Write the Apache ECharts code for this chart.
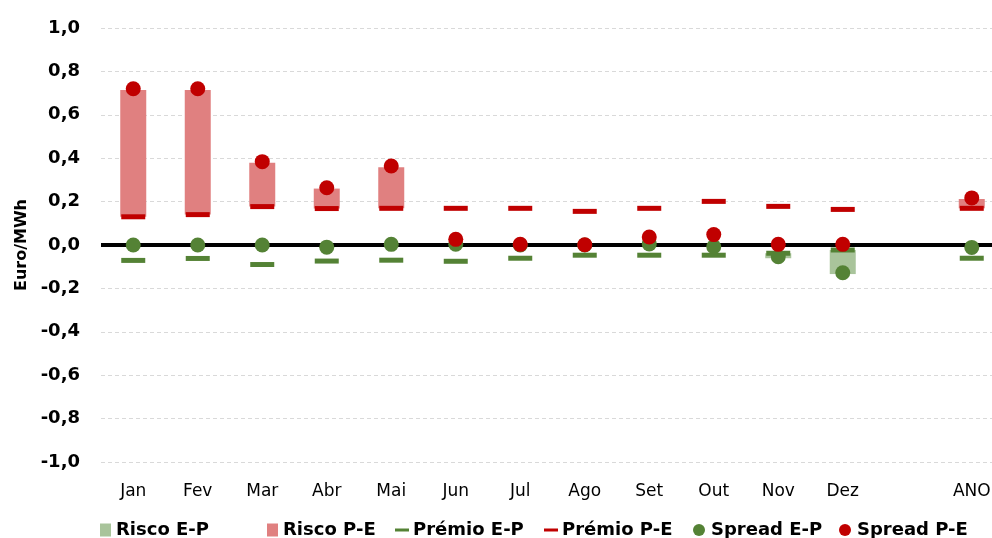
<!DOCTYPE html>
<html>
<head>
<meta charset="utf-8">
<script src="https://cdn.jsdelivr.net/npm/echarts@6/dist/echarts.min.js"></script>
<style>html,body{margin:0;padding:0;background:#fff;overflow:hidden}#c{width:992px;height:538px}</style>
</head>
<body>
<div id="c"></div>
<script>
var categories = ['Jan','Fev','Mar','Abr','Mai','Jun','Jul','Ago','Set','Out','Nov','Dez','','ANO'];
var premioPE = [0.130, 0.140, 0.177, 0.168, 0.169, 0.169, 0.169, 0.155, 0.169, 0.201, 0.178, 0.164, null, 0.169];
var riscoPE  = [0.584, 0.574, 0.202, 0.092, 0.189, null, null, null, null, null, null, null, null, 0.043];
var spreadPE = [0.720, 0.720, 0.384, 0.264, 0.364, 0.026, 0.003, 0.001, 0.037, 0.048, 0.003, 0.003, null, 0.217];
var premioEP = [-0.071, -0.062, -0.090, -0.074, -0.070, -0.075, -0.061, -0.047, -0.047, -0.047, -0.038, -0.023, null, -0.061];
var riscoEP  = [null, null, null, null, null, null, null, null, null, null, -0.023, -0.111, null, null];
var spreadEP = [0.000, 0.000, 0.000, -0.010, 0.003, 0.004, 0.000, 0.000, 0.005, -0.008, -0.054, -0.128, null, -0.011];

var FONT = 'DejaVu Sans';
var cRiscoEP = '#A9C49B', cRiscoPE = '#E08080', cGreen = '#548235', cRed = '#C00000';

function leg(name, left, top, w, h, icon, gap) {
  return {
    data: [{name: name, icon: icon}], left: left, top: top, padding: 0,
    itemWidth: w, itemHeight: h, itemGap: 0, selectedMode: false,
    itemStyle: {borderWidth: 0, opacity: 1},
    textStyle: {fontFamily: FONT, fontWeight: 'bold', fontSize: 18, color: '#000', padding: [0, 0, 0, gap - 5]}
  };
}

var chart = echarts.init(document.getElementById('c'), null, {renderer: 'canvas'});
chart.setOption({
  animation: false,
  backgroundColor: '#fff',
  grid: {left: 101, right: -12, top: 28, bottom: 76, containLabel: false, outerBoundsMode: 'none'},
  legend: [
    leg('Risco E-P', 100, 521, 11, 13, 'rect', 5),
    leg('Risco P-E', 267, 521, 11, 13, 'rect', 5),
    leg('Prémio E-P', 395, 521, 14, 3, 'rect', 4),
    leg('Prémio P-E', 544, 521, 14, 3, 'rect', 4),
    leg('Spread E-P', 693, 521, 12, 12, 'circle', 6),
    leg('Spread P-E', 839, 521, 12, 12, 'circle', 6)
  ],
  xAxis: {
    type: 'category', data: categories,
    axisLine: {show: false}, axisTick: {show: false},
    axisLabel: {fontFamily: FONT, fontSize: 17, color: '#000', margin: 21, interval: 0},
    splitLine: {show: false}
  },
  yAxis: {
    type: 'value', min: -1, max: 1, interval: 0.2,
    name: 'Euro/MWh', nameLocation: 'middle', nameGap: 68,
    nameTextStyle: {fontFamily: FONT, fontWeight: 'bold', fontSize: 16, color: '#000'},
    axisLine: {show: false}, axisTick: {show: false},
    axisLabel: {fontFamily: FONT, fontWeight: 'bold', fontSize: 18, color: '#000', margin: 21,
      formatter: function (v) { return (Math.abs(v) < 1e-9 ? 0 : v).toFixed(1).replace('.', ','); }},
    splitLine: {show: true, lineStyle: {color: '#d9d9d9', width: 1, type: [4, 3]}}
  },
  series: [
    {name: 'baseEP', type: 'bar', stack: 'ep', data: premioEP, barWidth: 26, barGap: '-100%',
      itemStyle: {color: 'rgba(0,0,0,0)'}, silent: true, z: 1},
    {name: 'Risco E-P', type: 'bar', stack: 'ep', data: riscoEP, barWidth: 26, barGap: '-100%',
      itemStyle: {color: cRiscoEP, opacity: 1}, z: 2},
    {name: 'basePE', type: 'bar', stack: 'pe', data: premioPE, barWidth: 26, barGap: '-100%',
      itemStyle: {color: 'rgba(0,0,0,0)'}, silent: true, z: 1,
      markLine: {silent: true, symbol: 'none', z: 3, label: {show: false},
        lineStyle: {color: '#000', width: 4, type: 'solid', opacity: 1}, data: [{yAxis: 0}]}},
    {name: 'Risco P-E', type: 'bar', stack: 'pe', data: riscoPE, barWidth: 26, barGap: '-100%',
      itemStyle: {color: cRiscoPE, opacity: 1}, z: 2},
    {name: 'Prémio E-P', type: 'scatter', data: premioEP, symbol: 'rect', symbolSize: [24, 5],
      itemStyle: {color: cGreen, opacity: 1}, z: 10},
    {name: 'Prémio P-E', type: 'scatter', data: premioPE, symbol: 'rect', symbolSize: [24, 5],
      itemStyle: {color: cRed, opacity: 1}, z: 10},
    {name: 'Spread E-P', type: 'scatter', data: spreadEP, symbol: 'circle', symbolSize: 15,
      itemStyle: {color: cGreen, opacity: 1}, z: 11},
    {name: 'Spread P-E', type: 'scatter', data: spreadPE, symbol: 'circle', symbolSize: 15,
      itemStyle: {color: cRed, opacity: 1}, z: 12}
  ]
});
</script>
</body>
</html>
